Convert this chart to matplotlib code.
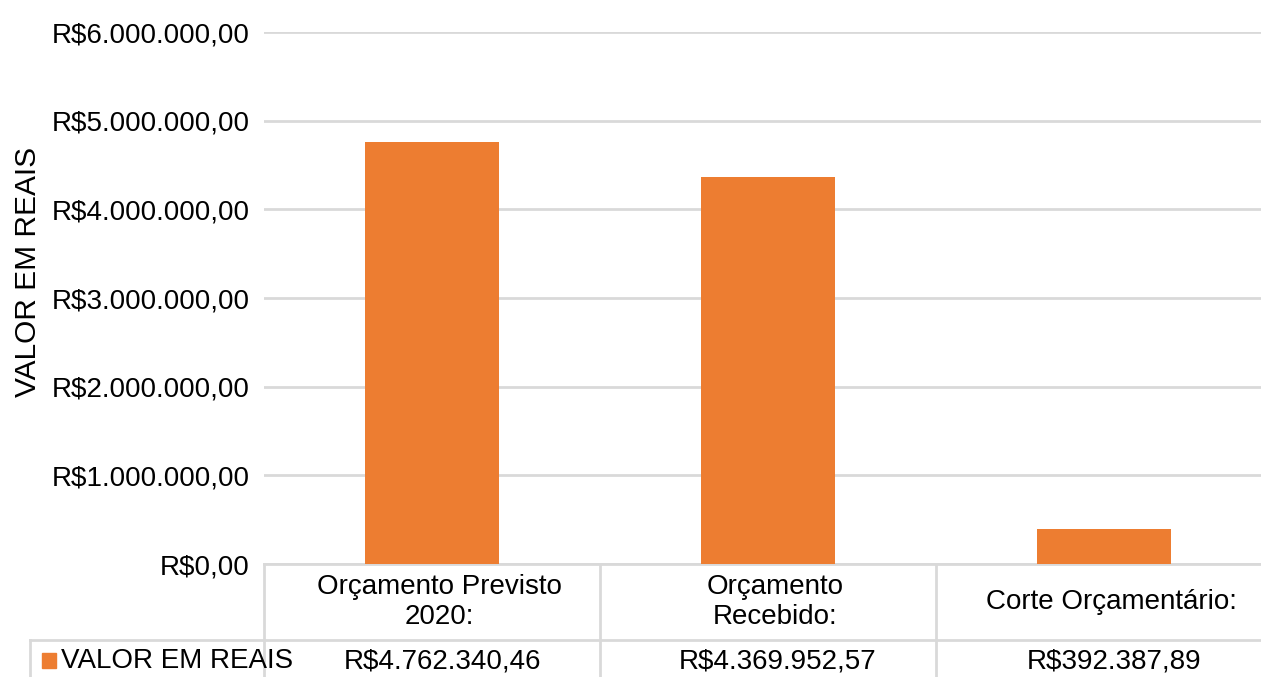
import matplotlib.pyplot as plt
import matplotlib.transforms as mtransforms

categories = ["Orçamento Previsto\n2020:", "Orçamento\nRecebido:", "Corte Orçamentário:"]
values = [4762340.46, 4369952.57, 392387.89]
series_name = "VALOR EM REAIS"
yticks = [0, 1000000, 2000000, 3000000, 4000000, 5000000, 6000000]

ORANGE = "#ED7D31"
GRID = "#d9d9d9"
FS = 20


def brl(v):
    s = f"{v:,.2f}"
    s = s.replace(",", "X").replace(".", ",").replace("X", ".")
    return "R$" + s


plt.rcParams["font.family"] = ["Liberation Sans", "DejaVu Sans"]

W, H = 1261, 677
fig = plt.figure(figsize=(W / 100, H / 100), dpi=100)
# plot area runs a bit past the right edge of the picture, as in the source
left, right, top, bottom = 264, 1272, 32, 564
ax = fig.add_axes([left / W, 1 - bottom / H, (right - left) / W, (bottom - top) / H])

x = list(range(len(categories)))
ax.bar(x, values, width=0.4, color=ORANGE, zorder=3)
ax.set_xlim(-0.5, len(categories) - 0.5)
ax.set_ylim(0, 6000000)
ax.set_yticks(yticks)
ax.set_yticklabels([brl(v) for v in yticks], fontsize=FS)
ax.tick_params(axis="y", length=0, pad=10.5)
ax.set_xticks([])
ax.yaxis.grid(True, color=GRID, linewidth=2)
ax.set_axisbelow(True)
for s in ax.spines.values():
    s.set_visible(False)

ax.set_ylabel(series_name, fontsize=21.5)
ax.yaxis.set_label_coords((42 - left) / (right - left), (bottom - 272) / (bottom - top))

# data table below the plot
pw, ph = right - left, bottom - top
def fx(px):
    return (px - left) / pw
def fy(py):
    return (bottom - py) / ph

row1 = 640
kw = dict(transform=ax.transAxes, color=GRID, linewidth=2, clip_on=False)
ax.plot([fx(left), fx(right)], [fy(bottom), fy(bottom)], **kw)
ax.plot([fx(30), fx(right)], [fy(row1), fy(row1)], **kw)
ax.plot([fx(left), fx(left)], [fy(bottom), fy(H + 5)], **kw)
ax.plot([fx(30), fx(30)], [fy(row1), fy(H + 5)], **kw)

blend = mtransforms.blended_transform_factory(ax.transData, ax.transAxes)
for i in range(1, len(categories)):
    ax.plot([i - 0.5, i - 0.5], [fy(bottom), fy(H + 5)], transform=blend,
            color=GRID, linewidth=2, clip_on=False)

col_px = pw / len(categories)
for i, (c, v) in enumerate(zip(categories, values)):
    ax.text(i + 7 / col_px, fy((bottom + row1) / 2), c, transform=blend,
            ha="center", va="center", fontsize=FS, linespacing=1.15)
    ax.text(i + 10 / col_px, fy(661), brl(v), transform=blend,
            ha="center", va="center", fontsize=FS)

ax.add_patch(plt.Rectangle((fx(42), fy(668)), fx(56) - fx(42), fy(653) - fy(668),
                           transform=ax.transAxes, color=ORANGE, clip_on=False))
ax.text(fx(61), fy(661), series_name, transform=ax.transAxes, ha="left", va="center",
        fontsize=FS)

fig.savefig("out.png", dpi=100)
